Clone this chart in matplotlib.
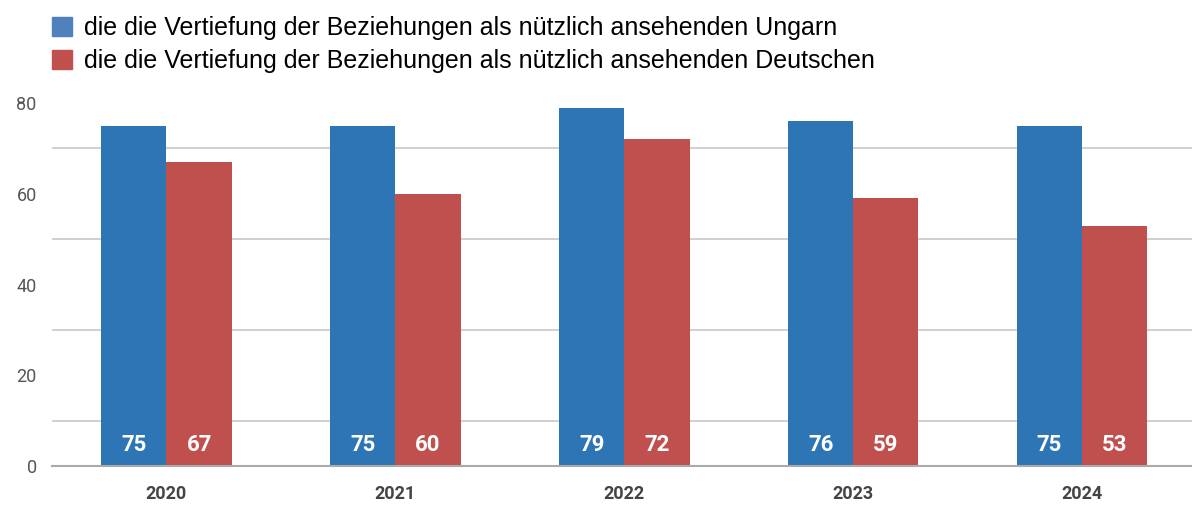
import numpy as np
import matplotlib.pyplot as plt
from matplotlib.patches import Patch

years = ['2020', '2021', '2022', '2023', '2024']
ungarn = [75, 75, 79, 76, 75]
deutsche = [67, 60, 72, 59, 53]
labels = ['die die Vertiefung der Beziehungen als nützlich ansehenden Ungarn',
          'die die Vertiefung der Beziehungen als nützlich ansehenden Deutschen']

blue = '#2e75b6'
red = '#c0504d'
narrow = ['Roboto', 'DejaVu Sans']

fig = plt.figure(figsize=(11.92, 5.08), dpi=100)
ax = fig.add_axes([52/1192, 42/508, 1140/1192, 363/508])

x = np.arange(len(years))
w = 0.285
ax.bar(x - w/2, ungarn, w, color=blue, zorder=2)
ax.bar(x + w/2, deutsche, w, color=red, zorder=2)

for i in range(len(years)):
    ax.text(x[i] - w/2, 4.6, str(ungarn[i]), color='white', ha='center', va='center',
            fontsize=16, fontweight='bold', family=narrow, zorder=3)
    ax.text(x[i] + w/2, 4.6, str(deutsche[i]), color='white', ha='center', va='center',
            fontsize=16, fontweight='bold', family=narrow, zorder=3)

ax.set_xlim(-0.5, 4.48)
ax.set_ylim(0, 80)
for g in [10, 30, 50, 70]:
    ax.axhline(g, color='#c8c8c8', lw=1.2, zorder=1)

ax.set_yticks([0, 20, 40, 60, 80])
ax.set_yticklabels(['0', '20', '40', '60', '80'], family=narrow, fontsize=13, color='#555555')
ax.set_xticks(x)
ax.set_xticklabels(years, family=narrow, fontsize=13, fontweight='bold', color='#444444')
ax.tick_params(axis='y', length=0, pad=11)
ax.tick_params(axis='x', length=0, pad=14)
for s in ['top', 'right', 'left']:
    ax.spines[s].set_visible(False)
ax.spines['bottom'].set_color('#aaaaaa')
ax.spines['bottom'].set_linewidth(1.5)

handles = [Patch(color='#4f81bd'), Patch(color=red)]
fig.legend(handles, labels, loc='upper left', bbox_to_anchor=(52/1192, 1 - 16/508), frameon=False,
           prop={'family': ['Liberation Sans', 'DejaVu Sans'], 'size': 18},
           borderpad=0, borderaxespad=0,
           handlelength=0.8, handleheight=0.8, handletextpad=0.5, labelspacing=0.37)

fig.savefig('out.png', dpi=100)
